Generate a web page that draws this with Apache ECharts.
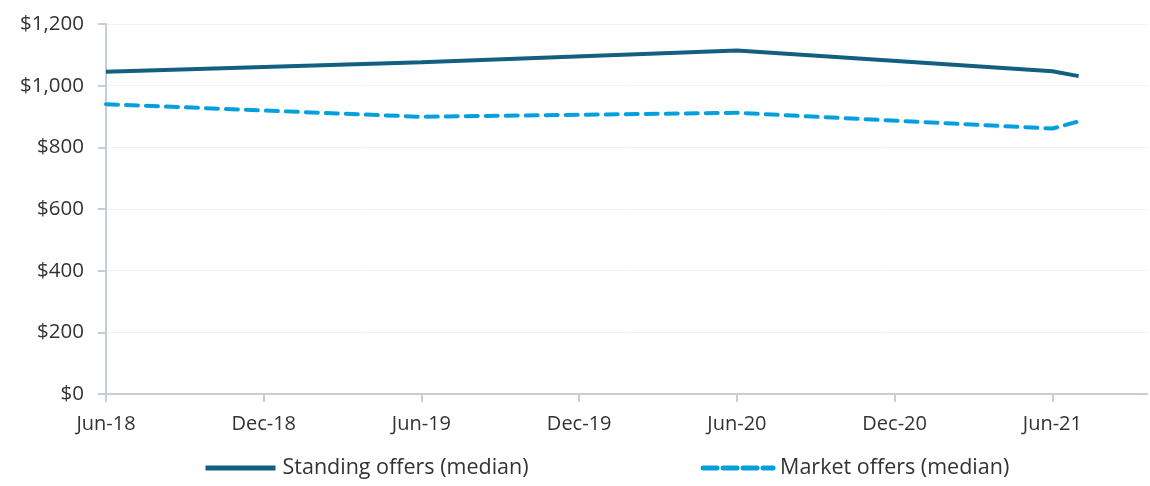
<!DOCTYPE html>
<html>
<head>
<meta charset="utf-8">
<script src="https://cdn.jsdelivr.net/npm/echarts@6/dist/echarts.min.js"></script>
<style>
  html, body { margin: 0; padding: 0; background: #fff; }
  #chart { width: 1150px; height: 486px; }
</style>
</head>
<body>
<div id="chart"></div>
<script>
// months counted from Jun-18
const tickLabels = ['Jun-18', 'Dec-18', 'Jun-19', 'Dec-19', 'Jun-20', 'Dec-20', 'Jun-21'];
const months = [0, 12, 24, 36, 37];
const standing = [1045, 1076, 1114, 1047, 1031];
const market = [940, 899, 912, 861, 884];

const toPoints = vals => months.map((m, i) => [m, vals[i]]);
const tickValues = tickLabels.map((_, i) => i * 6);

const myChart = echarts.init(document.getElementById('chart'));

myChart.setOption({
  animation: false,
  textStyle: { fontFamily: 'Open Sans' },
  grid: { left: 106, right: 3, top: 24, bottom: 92 },
  legend: {
    left: 198,
    bottom: 2,
    itemWidth: 70,
    itemHeight: 6,
    itemGap: 172,
    itemStyle: { opacity: 0 },
    lineStyle: { width: 5 },
    textStyle: { fontSize: 21.5, color: '#333', padding: [0, 0, 0, 2] },
    data: [
      { name: 'Standing offers (median)' },
      { name: 'Market offers (median)', lineStyle: { width: 5, type: [14, 6], cap: 'round' } }
    ]
  },
  xAxis: {
    type: 'value',
    min: 0,
    max: 39.6,
    interval: 6,
    splitLine: { show: false },
    axisLine: { lineStyle: { color: '#c8ced9', width: 2 } },
    axisTick: { customValues: tickValues, length: 8, lineStyle: { color: '#c8ced9', width: 2 } },
    axisLabel: {
      customValues: tickValues,
      formatter: v => tickLabels[v / 6] || '',
      fontSize: 20, color: '#333', margin: 20
    }
  },
  yAxis: {
    type: 'value',
    min: 0,
    max: 1200,
    interval: 200,
    axisLine: { show: true, lineStyle: { color: '#c8ced9', width: 2 } },
    axisTick: { show: true, length: 8, lineStyle: { color: '#c8ced9', width: 2 } },
    splitLine: { lineStyle: { color: '#f3f3f3' } },
    axisLabel: {
      formatter: v => '$' + v.toLocaleString('en-US'),
      fontSize: 20.5, color: '#333', margin: 22
    }
  },
  series: [
    {
      name: 'Standing offers (median)',
      type: 'line',
      data: toPoints(standing),
      symbol: 'none',
      lineStyle: { color: '#135f80', width: 4 },
      itemStyle: { color: '#135f80' }
    },
    {
      name: 'Market offers (median)',
      type: 'line',
      data: toPoints(market),
      symbol: 'none',
      lineStyle: { color: '#05a0dc', width: 4, type: [12, 8], cap: 'round' },
      itemStyle: { color: '#05a0dc' }
    }
  ]
});
</script>
</body>
</html>
